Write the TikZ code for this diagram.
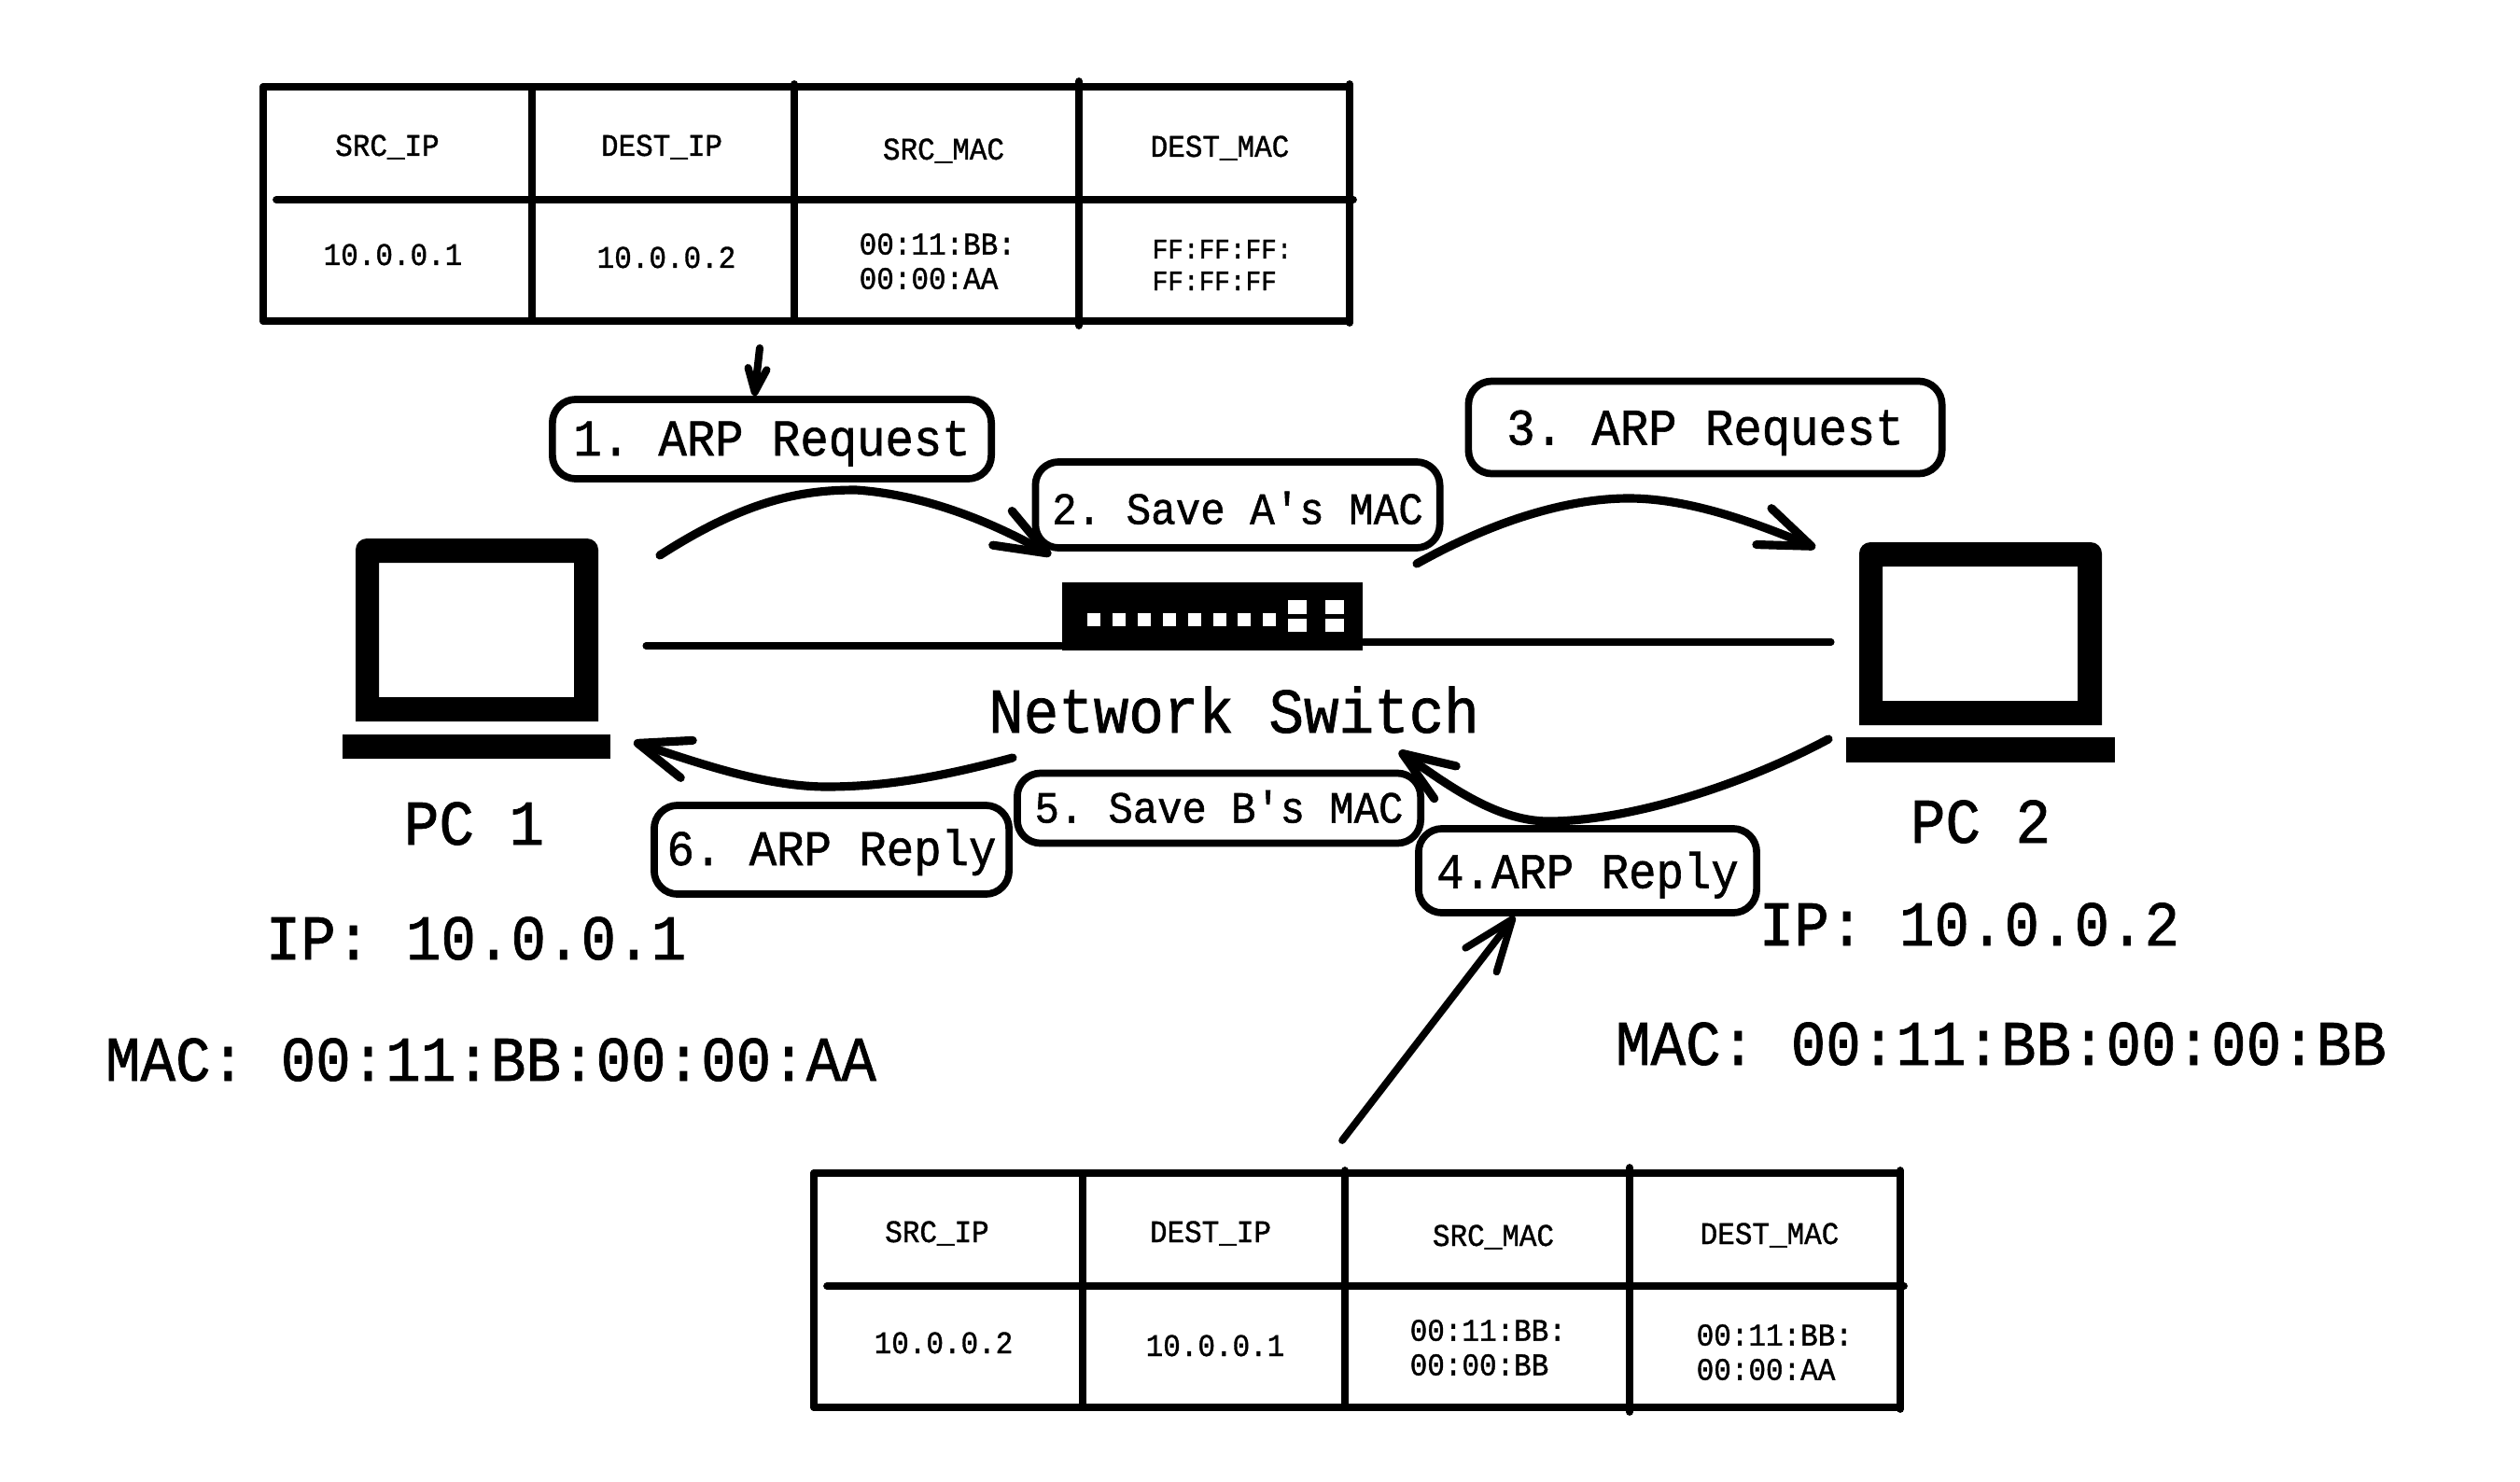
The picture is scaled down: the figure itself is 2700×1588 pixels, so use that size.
\documentclass[tikz,border=0pt]{standalone}
\usepackage{fontspec}
\setmainfont[FakeStretch=0.917,FakeBold=1.1,Ligatures=TeXOff]{Liberation Mono}
\usetikzlibrary{arrows.meta}
\tikzset{
    bigtext/.style={anchor=base,inner sep=0pt,font=\fontsize{19.4}{23}\selectfont},
    celltext/.style={anchor=base,inner sep=0pt,font=\fontsize{9.6}{10.5}\selectfont},
    twolines/.style={anchor=west,align=left,inner sep=0pt,font=\fontsize{9.6}{10.5}\selectfont},
    stepbox/.style={draw,line width=2.2pt,rounded corners=.25cm,inner sep=0pt,text height=.31cm,text depth=0pt},
    tablerule/.style={line width=2.2pt,line cap=round},
    wire/.style={line width=2pt,line cap=round},
    flow/.style={line width=2.6pt,line cap=round,-{Straight Barb[length=.55cm,width=.42cm,round]}},
    thinflow/.style={line width=2.2pt,line cap=round,-{Straight Barb[length=.55cm,width=.42cm,round]}},
    smallflow/.style={line width=2.3pt,line cap=round,-{Straight Barb[length=.25cm,width=.2cm,round]}}
}
\begin{document}
\frenchspacing
\begin{tikzpicture}[x=0.01cm,y=-0.01cm]
    \useasboundingbox (0,0) rectangle (2700,1588);

    % Table rules
    \foreach \tx/\ty in {0/0,590/1164} {
        \draw[tablerule] (282+\tx,93+\ty) -- (1446+\tx,93+\ty);
        \draw[tablerule] (296+\tx,214+\ty) -- (1450+\tx,214+\ty);
        \draw[tablerule] (282+\tx,344+\ty) -- (1446+\tx,344+\ty);
        \draw[tablerule] (282+\tx,93+\ty) -- (282+\tx,344+\ty);
        \draw[tablerule] (570+\tx,93+\ty) -- (570+\tx,340+\ty);
        \draw[tablerule] (851+\tx,90+\ty) -- (851+\tx,344+\ty);
        \draw[tablerule] (1156+\tx,87+\ty) -- (1156+\tx,349+\ty);
        \draw[tablerule] (1446+\tx,90+\ty) -- (1446+\tx,346+\ty);
    }

    % Request table
    \node[celltext] (reqsrcip) at (415,167) {SRC\_IP};
    \node[celltext] (reqdestip) at (709,167) {DEST\_IP};
    \node[celltext] (reqsrcmac) at (1011,171) {SRC\_MAC};
    \node[celltext] (reqdestmac) at (1307,168) {DEST\_MAC};
    \node[celltext] (reqipa) at (421,284) {10.0.0.1};
    \node[celltext] (reqipb) at (714,287) {10.0.0.2};
    \node[twolines] (reqmaca) at (920,280) {00:11:BB:\\00:00:AA};
    \node[twolines,font=\fontsize{8.6}{9.7}\selectfont] (reqmacb) at (1234,284) {FF:FF:FF:\\FF:FF:FF};

    % Reply table
    \node[celltext] (repsrcip) at (1004,1331) {SRC\_IP};
    \node[celltext] (repdestip) at (1297,1331) {DEST\_IP};
    \node[celltext] (repsrcmac) at (1600,1335) {SRC\_MAC};
    \node[celltext] (repdestmac) at (1896,1333) {DEST\_MAC};
    \node[celltext] (repipa) at (1011,1450) {10.0.0.2};
    \node[celltext] (repipb) at (1302,1453) {10.0.0.1};
    \node[twolines] (repmaca) at (1510,1444) {00:11:BB:\\00:00:BB};
    \node[twolines] (repmacb) at (1817,1449) {00:11:BB:\\00:00:AA};

    % Steps
    \node[stepbox,text height=.35cm,minimum width=4.7cm,minimum height=.85cm,font=\fontsize{15.7}{18}\selectfont] (stepone) at (827,470.5) {1. ARP Request};
    \node[stepbox,text height=.41cm,minimum width=4.33cm,minimum height=.92cm,font=\fontsize{13.7}{16}\selectfont] (steptwo) at (1326,541) {2. Save A's MAC};
    \node[stepbox,text height=.37cm,minimum width=5.07cm,minimum height=.99cm,font=\fontsize{15.7}{18}\selectfont] (stepthree) at (1827,458) {3. ARP Request};
    \node[stepbox,text height=.37cm,minimum width=3.62cm,minimum height=.9cm,font=\fontsize{15.2}{18}\selectfont] (stepfour) at (1701,933) {4.ARP Reply};
    \node[stepbox,minimum width=4.32cm,minimum height=.75cm,font=\fontsize{13.6}{16}\selectfont] (stepfive) at (1306,866) {5. Save B's MAC};
    \node[stepbox,text height=.33cm,minimum width=3.8cm,minimum height=.95cm,font=\fontsize{15.2}{18}\selectfont] (stepsix) at (891,910.5) {6. ARP Reply};

    % PC 1
    \fill[even odd rule] (381,773) [rounded corners=.12cm] -- (381,577) -- (641,577) [sharp corners] -- (641,773) -- cycle (406,603) rectangle (615,747);
    \fill (367,787) rectangle (654,813);
    \node[bigtext] (pcone) at (508,905) {PC 1};
    \node[bigtext] (ipone) at (510,1028) {IP: 10.0.0.1};
    \node[bigtext] (macone) at (526,1158) {MAC: 00:11:BB:00:00:AA};

    % PC 2
    \fill[even odd rule] (1992,777) [rounded corners=.12cm] -- (1992,581) -- (2252,581) [sharp corners] -- (2252,777) -- cycle (2017,607) rectangle (2226,751);
    \fill (1978,790) rectangle (2266,817);
    \node[bigtext] (pctwo) at (2122,903) {PC 2};
    \node[bigtext] (iptwo) at (2110,1013) {IP: 10.0.0.2};
    \node[bigtext] (mactwo) at (2144,1141) {MAC: 00:11:BB:00:00:BB};

    % Switch
    \node[fill=black,minimum width=3.22cm,minimum height=.73cm,inner sep=0pt] (switch) at (1299,660.5) {};
    \foreach \px in {1172,1198.9,1225.8,1252.7,1279.6,1306.5,1333.4,1360.3} {
        \fill[white] (\px-7,657) rectangle (\px+7,671);
    }
    \foreach \px in {1380,1420} {
        \fill[white] (\px,643) rectangle (\px+20,658);
        \fill[white] (\px,663) rectangle (\px+20,677);
    }
    \node[bigtext] (switchname) at (1322,785) {Network Switch};

    % Wire
    \coordinate (wireleft) at (692,692);
    \coordinate (wireright) at (1962,688);
    \draw[wire] (wireleft) -- (wireleft -| switch.west);
    \draw[wire] (wireright -| switch.east) -- (wireright);

    % Arrows
    \coordinate (reqtable) at (814,373);
    \coordinate (reptable) at (1438,1222);
    \coordinate (goone) at (707,595);
    \coordinate (gotwo) at (1126,595);
    \coordinate (gothree) at (1518,604);
    \coordinate (gofour) at (1945,587);
    \coordinate (backone) at (1959,792);
    \coordinate (backtwo) at (1499,805);
    \coordinate (backthree) at (1085,812);
    \coordinate (backfour) at (679,795);
    \draw[smallflow] (reqtable) -- (stepone.112);
    \draw[thinflow] (reptable) -- (stepfour.212);
    \draw[flow] (goone) .. controls (800,535) and (860,525) .. (917,525) .. controls (990,530) and (1060,558) .. (gotwo);
    \draw[flow] (gothree) .. controls (1600,558) and (1680,534) .. (1745,534) .. controls (1810,534) and (1880,560) .. (gofour);
    \draw[flow] (backone) .. controls (1860,845) and (1740,880) .. (1659,880) .. controls (1600,880) and (1545,836) .. (backtwo);
    \draw[flow] (backthree) .. controls (1010,832) and (950,843) .. (886,843) .. controls (820,843) and (750,818) .. (backfour);
\end{tikzpicture}
\end{document}
